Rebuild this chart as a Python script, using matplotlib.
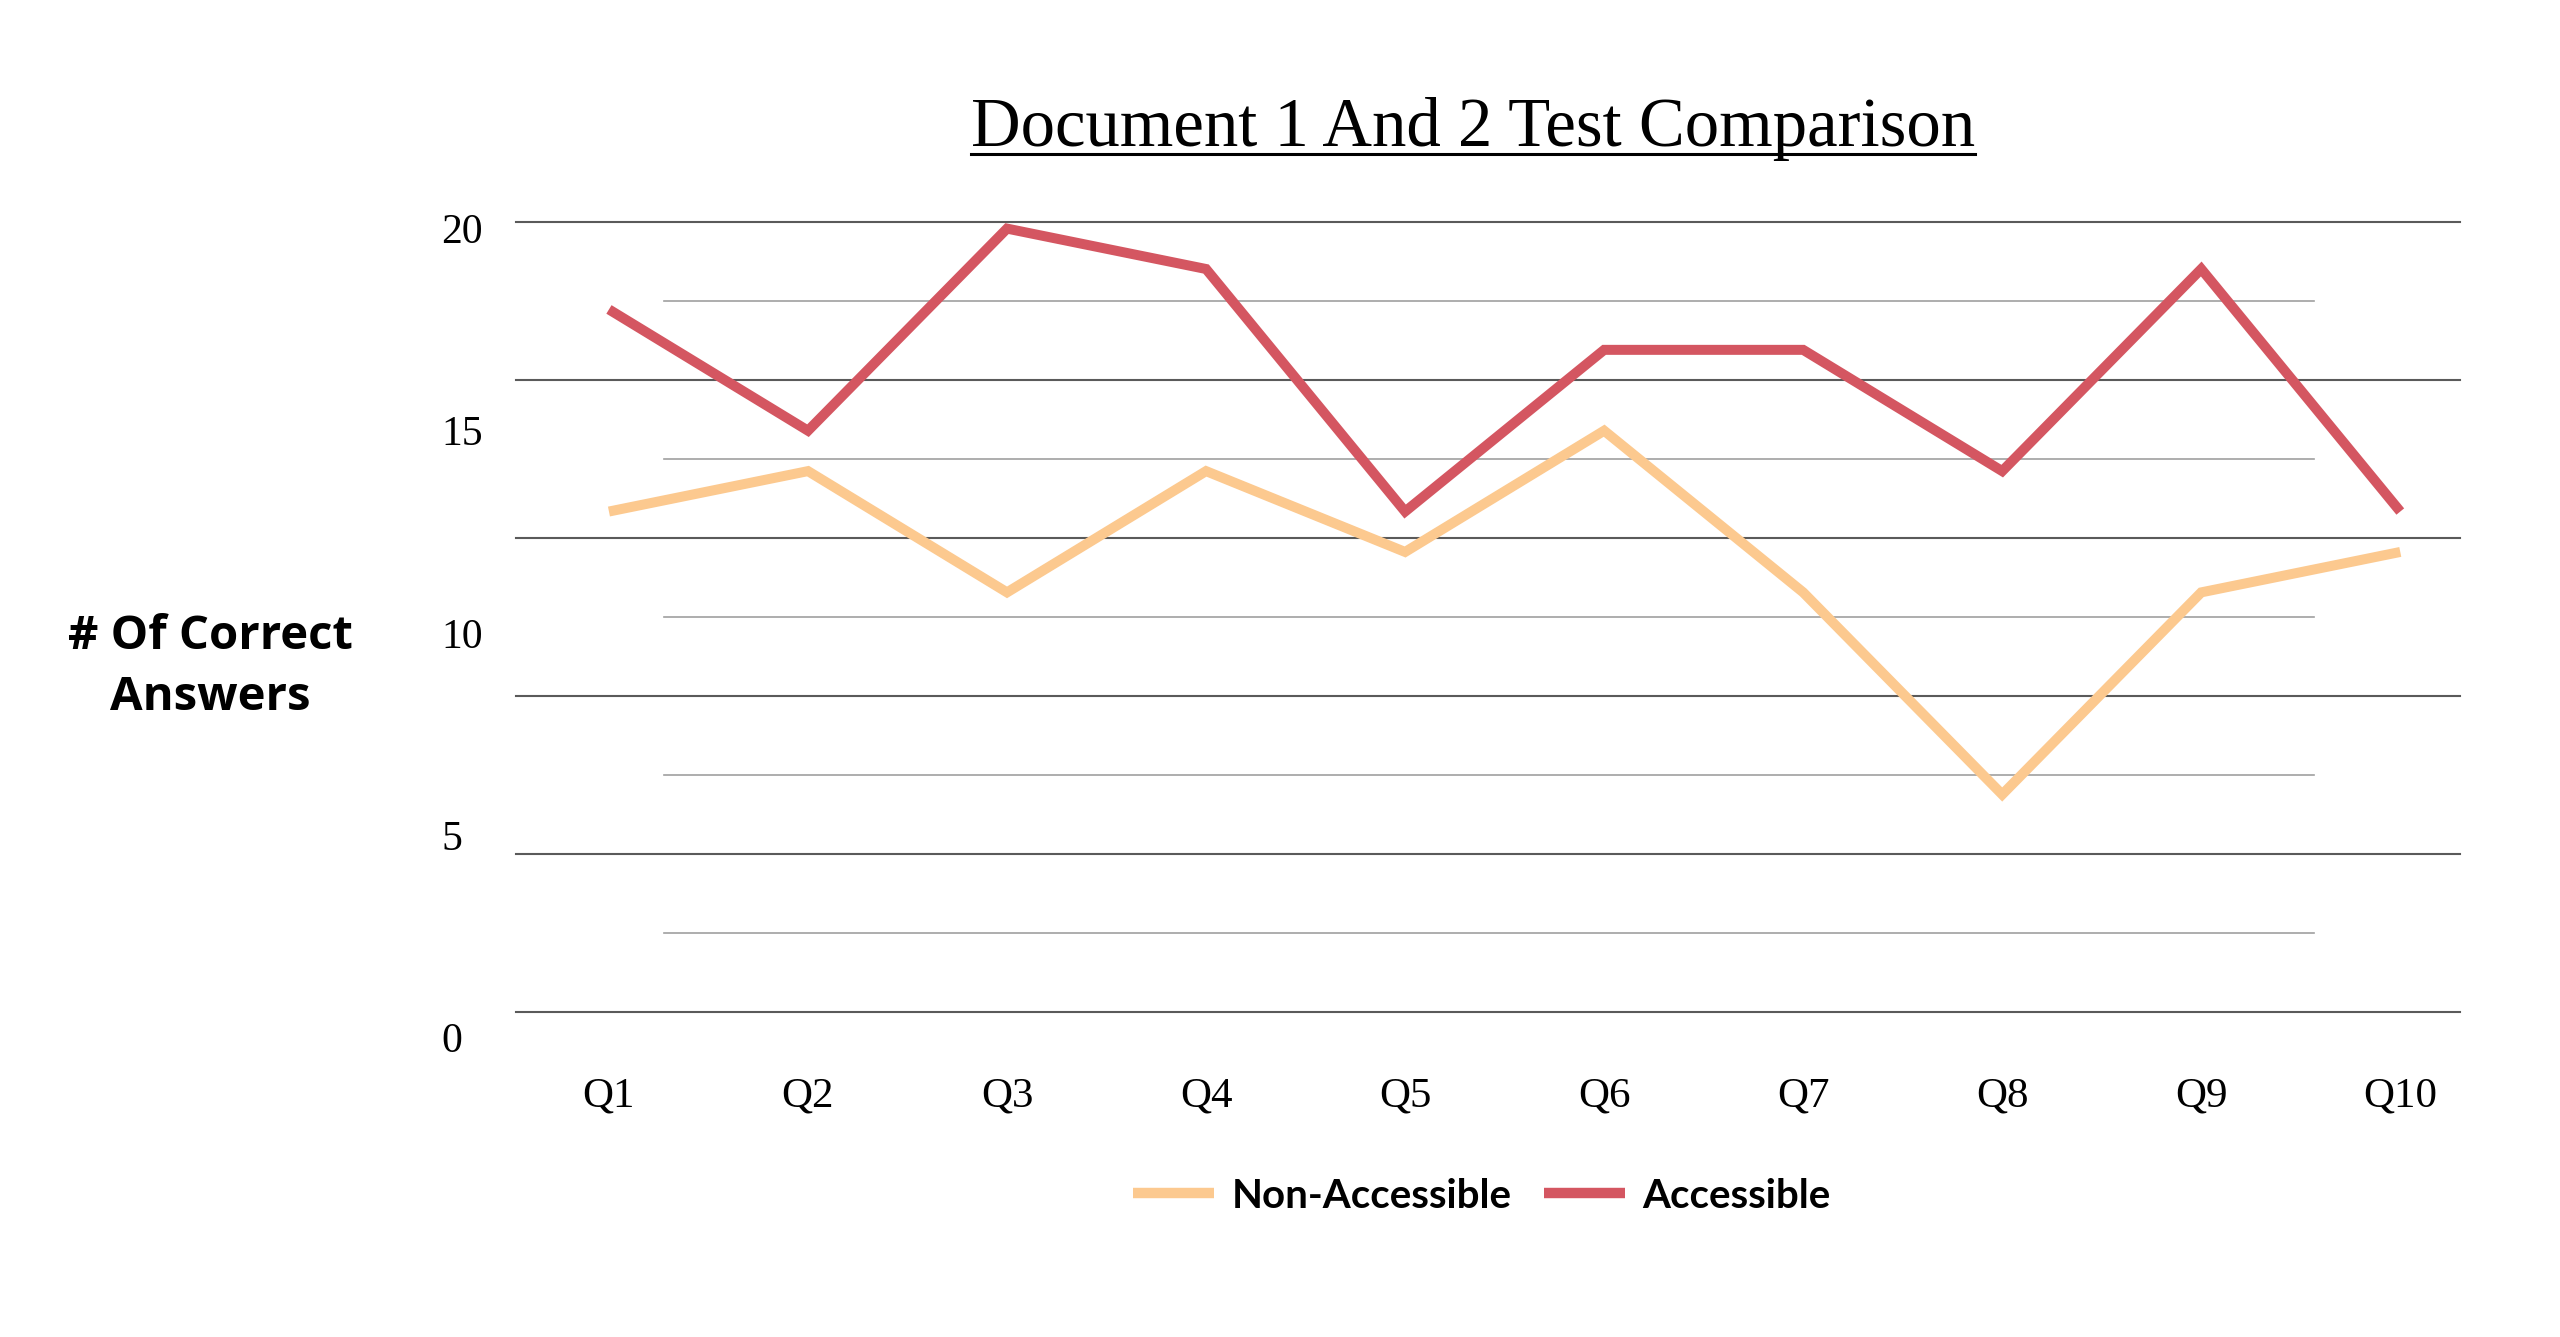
import matplotlib
matplotlib.use("Agg")
import matplotlib.pyplot as plt
from matplotlib.lines import Line2D

questions = ["Q1", "Q2", "Q3", "Q4", "Q5", "Q6", "Q7", "Q8", "Q9", "Q10"]
non_accessible = [13, 14, 11, 14, 12, 15, 11, 6, 11, 12]
accessible = [18, 15, 20, 19, 13, 17, 17, 14, 19, 13]
y_ticks = [0, 5, 10, 15, 20]
grid_major = [0, 4, 8, 12, 16, 20]
grid_minor = [2, 6, 10, 14, 18]

W, H = 2560, 1337
fig = plt.figure(figsize=(W / 100, H / 100), dpi=100)

# axes box in pixels
left_px, right_px = 516, 2460
top_px, bottom_px = 222, 1037
ax = fig.add_axes([left_px / W, 1 - bottom_px / H, (right_px - left_px) / W, (bottom_px - top_px) / H])

x = list(range(len(questions)))
ax.plot(x, non_accessible, color="#fcc98f", lw=7.2, solid_capstyle="butt", solid_joinstyle="miter",
        label="Non-Accessible", zorder=3)
ax.plot(x, accessible, color="#d45661", lw=7.2, solid_capstyle="butt", solid_joinstyle="miter",
        label="Accessible", zorder=3)

ax.set_xlim(-0.467, 9.30)
ax.set_ylim(0, 20.163)

for s in ax.spines.values():
    s.set_visible(False)

ax.set_xticks(x)
ax.set_xticklabels(questions, fontfamily="Liberation Serif", fontsize=31)
ax.set_yticks(y_ticks)
ax.set_yticklabels([str(v) for v in y_ticks], fontfamily="Liberation Serif", fontsize=30)
ax.tick_params(axis="both", length=0)
ax.tick_params(axis="x", pad=29)
ax.tick_params(axis="y", pad=54)
for lab in ax.get_yticklabels():
    lab.set_horizontalalignment("left")

# decorative gridline axis
gx = ax.twinx()
gx.set_ylim(-0.62, 20)
gx.axis("off")
minor_x0 = (664 - left_px) / (right_px - left_px)
minor_x1 = (2314 - left_px) / (right_px - left_px)
for v in grid_major:
    gx.axhline(v, xmin=0, xmax=1, color="#5a5a5a", lw=1.5, zorder=1, clip_on=False)
for v in grid_minor:
    gx.axhline(v, xmin=minor_x0, xmax=minor_x1, color="#a0a0a0", lw=1.2, zorder=1, clip_on=False)
ax.set_zorder(gx.get_zorder() + 1)
ax.patch.set_visible(False)

# y label
fig.text(210 / W, 1 - 667 / H, "# Of Correct\nAnswers", ha="center", va="center",
         fontfamily="Open Sans", fontweight="bold", fontsize=34, linespacing=1.38)

# title with underline
title = fig.text(1473 / W, 1 - 146 / H, "Document 1 And 2 Test Comparison", ha="center", va="baseline",
                 fontfamily="Liberation Serif", fontsize=49.5)
fig.canvas.draw()
bb = title.get_window_extent()
uy = 1 - 154 / H
fig.add_artist(Line2D([bb.x0 / W, bb.x1 / W], [uy, uy], color="black", lw=2.2, transform=fig.transFigure))

# legend
leg = ax.legend(loc="center", bbox_to_anchor=(1482 / W, 1 - 1196 / H), bbox_transform=fig.transFigure,
                ncol=2, frameon=False, handlelength=2.0, handletextpad=0.45, columnspacing=0.8,
                prop={"family": "Lato", "weight": "bold", "size": 29})
for h in leg.get_lines():
    h.set_linewidth(7.5)

fig.savefig("out.png", dpi=100, facecolor="white")
